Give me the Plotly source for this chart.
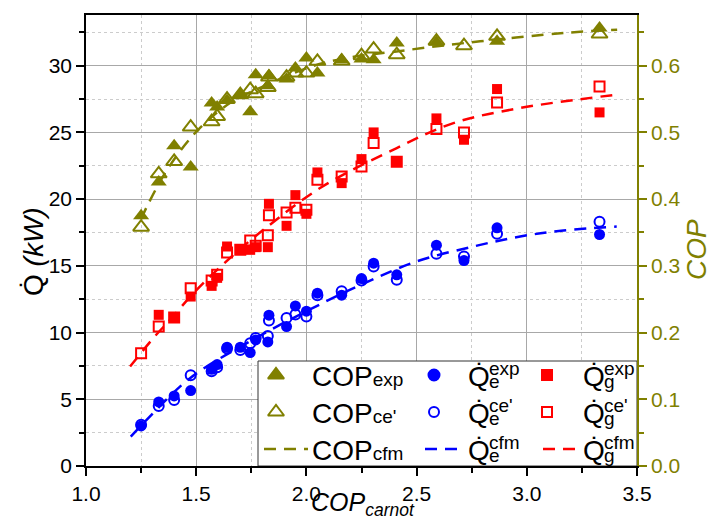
import plotly.graph_objects as go

# ---------------- data ----------------
cop_carnot = [1.25, 1.33, 1.40, 1.475, 1.57, 1.595, 1.64, 1.70, 1.745, 1.77, 1.825, 1.83,
              1.91, 1.95, 2.00, 2.05, 2.16, 2.25, 2.305, 2.41, 2.59, 2.715, 2.865, 3.33]

cop_exp = [0.375, 0.4255, 0.48, 0.448, 0.544, 0.538, 0.548, 0.556, 0.531, 0.5865, 0.570, 0.585,
           0.580, 0.5965, 0.6115, 0.589, 0.609, 0.610, 0.609, 0.634, 0.635, None, 0.6365, 0.6565]
cop_ce = [0.358, 0.438, 0.4565, 0.508, 0.516, 0.524, 0.550, 0.5565, 0.564, 0.558, 0.5675, 0.583,
          0.583, 0.589, 0.589, 0.6065, 0.607, 0.615, 0.625, 0.6165, 0.637, 0.630, 0.644, 0.6475]

qe_exp = [3.0, 4.8, 5.25, 5.65, 7.25, 7.6, 8.9, 8.9, 8.5, 9.45, 9.3, 11.3,
          10.45, 12.0, 11.6, 12.95, 12.8, 14.05, 15.2, 14.33, 16.55, 15.4, 17.85, 17.35]
qe_ce = [3.1, 4.5, 4.95, 6.8, 7.1, 7.4, 8.8, 8.7, 9.2, 9.6, 9.75, 10.9,
         11.1, 11.35, 11.2, 12.8, 13.1, 13.9, 14.95, 13.95, 15.9, 15.7, 17.4, 18.3]

qg_exp = [None, 11.33, 11.1, 12.7, 13.5, 14.1, 16.45, 16.25, 16.2, 16.4, 16.4, 19.65,
          18.0, 20.3, 18.9, 22.0, 21.2, 23.0, 25.0, 22.8, 26.05, 24.45, 28.25, 26.5]
qg_ce = [8.45, 10.45, 11.13, 13.33, 13.9, 14.33, 16.0, 16.2, 16.9, 16.5, 17.3, 18.8,
         19.0, 19.35, 19.2, 21.45, 21.7, 22.45, 24.2, 22.8, 25.25, 25.0, 27.25, 28.45]

cop_cfm_x = [1.25, 1.278, 1.373, 1.502, 1.653, 1.805, 2.077, 2.47, 2.788, 3.166, 3.41]
cop_cfm_y = [0.37, 0.39, 0.4465, 0.5015, 0.544, 0.569, 0.604, 0.624, 0.6365, 0.649, 0.654]

qe_cfm_x = [1.203, 1.275, 1.472, 1.75, 2.0, 2.25, 2.50, 2.757, 2.97, 3.166, 3.408]
qe_cfm_y = [2.2, 3.45, 6.58, 9.4, 11.6, 13.6, 15.33, 16.45, 17.2, 17.65, 17.95]

qg_cfm_x = [1.20, 1.305, 1.381, 1.502, 1.661, 1.805, 2.062, 2.41, 2.667, 2.97, 3.408]
qg_cfm_y = [7.45, 9.58, 10.95, 13.2, 15.7, 17.7, 20.83, 23.83, 25.7, 26.83, 27.83]

x_ticks = [1.0, 1.5, 2.0, 2.5, 3.0, 3.5]
y_ticks = [0, 5, 10, 15, 20, 25, 30]
y2_ticks = [0.0, 0.1, 0.2, 0.3, 0.4, 0.5, 0.6]

# ---------------- style ----------------
OLIVE = "#808000"
BLUE = "#0000ff"
RED = "#ff0000"
FONT = "Liberation Sans, Arial, sans-serif"
W, H = 712, 522
ML, MR, MT, MB = 86, 75, 15, 56
PW, PH = W - ML - MR, H - MT - MB
DASH = "12px,8px"


def px2paper(px, py):
    return (px - ML) / PW, (H - MB - py) / PH


fig = go.Figure()

# COP series (right axis)
fig.add_trace(go.Scatter(x=cop_carnot, y=cop_exp, mode="markers", yaxis="y2",
                         marker=dict(symbol="triangle-up", size=14, color=OLIVE), showlegend=False))
fig.add_trace(go.Scatter(x=cop_carnot, y=cop_ce, mode="markers", yaxis="y2",
                         marker=dict(symbol="triangle-up-open", size=14, color=OLIVE,
                                     line=dict(width=2, color=OLIVE)), showlegend=False))
# Qe
fig.add_trace(go.Scatter(x=cop_carnot, y=qe_exp, mode="markers",
                         marker=dict(symbol="circle", size=11, color=BLUE), showlegend=False))
fig.add_trace(go.Scatter(x=cop_carnot, y=qe_ce, mode="markers",
                         marker=dict(symbol="circle-open", size=10, color=BLUE,
                                     line=dict(width=2, color=BLUE)), showlegend=False))
# Qg
fig.add_trace(go.Scatter(x=cop_carnot, y=qg_exp, mode="markers",
                         marker=dict(symbol="square", size=10, color=RED), showlegend=False))
fig.add_trace(go.Scatter(x=cop_carnot, y=qg_ce, mode="markers",
                         marker=dict(symbol="square-open", size=10, color=RED,
                                     line=dict(width=2, color=RED)), showlegend=False))
# fits
fig.add_trace(go.Scatter(x=cop_cfm_x, y=cop_cfm_y, mode="lines", yaxis="y2",
                         line=dict(color=OLIVE, width=2.5, dash=DASH, shape="spline"), showlegend=False))
fig.add_trace(go.Scatter(x=qe_cfm_x, y=qe_cfm_y, mode="lines",
                         line=dict(color=BLUE, width=2.5, dash=DASH, shape="spline"), showlegend=False))
fig.add_trace(go.Scatter(x=qg_cfm_x, y=qg_cfm_y, mode="lines",
                         line=dict(color=RED, width=2.5, dash=DASH, shape="spline"), showlegend=False))

# ---------------- custom legend (overlay axes in paper units) ----------------
bx0, by0 = px2paper(258, 466)
bx1, by1 = px2paper(637, 361)
fig.add_trace(go.Scatter(x=[bx0, bx1, bx1, bx0, bx0], y=[by0, by0, by1, by1, by0],
                         mode="lines", fill="toself", fillcolor="white",
                         line=dict(color="#333333", width=1), xaxis="x3", yaxis="y3",
                         showlegend=False, hoverinfo="skip"))

rows = [375, 412, 449]
legend_syms = [
    (276, rows[0], "triangle-up", OLIVE, 14),
    (276, rows[1], "triangle-up-open", OLIVE, 14),
    (434, rows[0], "circle", BLUE, 11),
    (434, rows[1], "circle-open", BLUE, 10),
    (547, rows[0], "square", RED, 10),
    (547, rows[1], "square-open", RED, 10),
]
for sx, sy, sym, col, sz in legend_syms:
    p = px2paper(sx, sy)
    fig.add_trace(go.Scatter(x=[p[0]], y=[p[1]], mode="markers", xaxis="x3", yaxis="y3",
                             marker=dict(symbol=sym, size=sz, color=col, line=dict(width=2, color=col)),
                             cliponaxis=False, showlegend=False, hoverinfo="skip"))
for lx0, lx1, col in [(264, 308, OLIVE), (425, 462, BLUE), (543, 580, RED)]:
    a = px2paper(lx0, rows[2])
    b = px2paper(lx1, rows[2])
    fig.add_trace(go.Scatter(x=[a[0], b[0]], y=[a[1], b[1]], mode="lines", xaxis="x3", yaxis="y3",
                             line=dict(color=col, width=2.5, dash=DASH), cliponaxis=False,
                             showlegend=False, hoverinfo="skip"))

annotations = []


def ann(px, py, text, size, anchor="left", **kw):
    x, y = px2paper(px, py)
    d = dict(x=x, y=y, xref="paper", yref="paper", text=text, showarrow=False,
             xanchor=anchor, yanchor="middle", font=dict(family=FONT, size=size, color="black"))
    d.update(kw)
    annotations.append(d)


cop_labels = ["exp", "ce'", "cfm"]
for r, lab in zip(rows, cop_labels):
    ann(310, r + 1, "COP<span style='font-size:19px'>%s</span>" % lab, 28)
    for qx, sub in [(466, "e"), (581, "g")]:
        ann(qx, r + 1, "Q\u0307", 28)
        ann(qx + 21, r - 7, lab, 19)
        ann(qx + 21, r + 6, sub, 19)

# axis titles
ann(363, 504, "<i>COP<sub>carnot</sub></i>", 25, anchor="center")
ann(33, 252, "Q\u0307 <i>(kW)</i>", 28, anchor="center", textangle=-90)
ann(697, 250, "<i>COP</i>", 28, anchor="center", textangle=-90,
    font=dict(family=FONT, size=28, color=OLIVE))

fig.update_layout(
    width=W, height=H,
    margin=dict(l=ML, r=MR, t=MT, b=MB),
    paper_bgcolor="white", plot_bgcolor="white",
    font=dict(family=FONT, size=21, color="black"),
    annotations=annotations,
    xaxis=dict(range=[1.0, 3.5], tickvals=x_ticks, ticktext=["%.1f" % v for v in x_ticks],
               ticks="outside", ticklen=8, tickwidth=1.5, tickcolor="black",
               showline=True, linecolor="black", linewidth=1.5, mirror=True,
               showgrid=True, gridcolor="#a8a8a8", gridwidth=1, zeroline=False,
               minor=dict(dtick=0.25, tick0=1.0, ticks="outside", ticklen=5, tickcolor="black",
                          showgrid=True, gridcolor="#cccccc", griddash="dot", gridwidth=1),
               tickfont=dict(size=21)),
    yaxis=dict(range=[0, 33.8], tickvals=y_ticks, ticks="outside", ticklen=8, tickwidth=1.5,
               tickcolor="black", showline=True, linecolor="black", linewidth=1.5,
               showgrid=True, gridcolor="#a8a8a8", gridwidth=1, zeroline=False,
               minor=dict(dtick=2.5, tick0=0, ticks="outside", ticklen=5, tickcolor="black",
                          showgrid=True, gridcolor="#cccccc", griddash="dot", gridwidth=1),
               tickfont=dict(size=21)),
    yaxis2=dict(range=[0, 0.676], overlaying="y", side="right", tickvals=y2_ticks,
                ticktext=["%.1f" % v for v in y2_ticks],
                ticks="outside", ticklen=8, tickwidth=1.5, tickcolor=OLIVE,
                showline=True, linecolor=OLIVE, linewidth=1.5, showgrid=False, zeroline=False,
                minor=dict(dtick=0.05, tick0=0, ticks="outside", ticklen=5, tickcolor=OLIVE),
                tickfont=dict(size=21, color=OLIVE)),
    xaxis3=dict(range=[0, 1], overlaying="x", visible=False, fixedrange=True),
    yaxis3=dict(range=[0, 1], overlaying="y", visible=False, fixedrange=True),
)

fig.write_html("out.html")
